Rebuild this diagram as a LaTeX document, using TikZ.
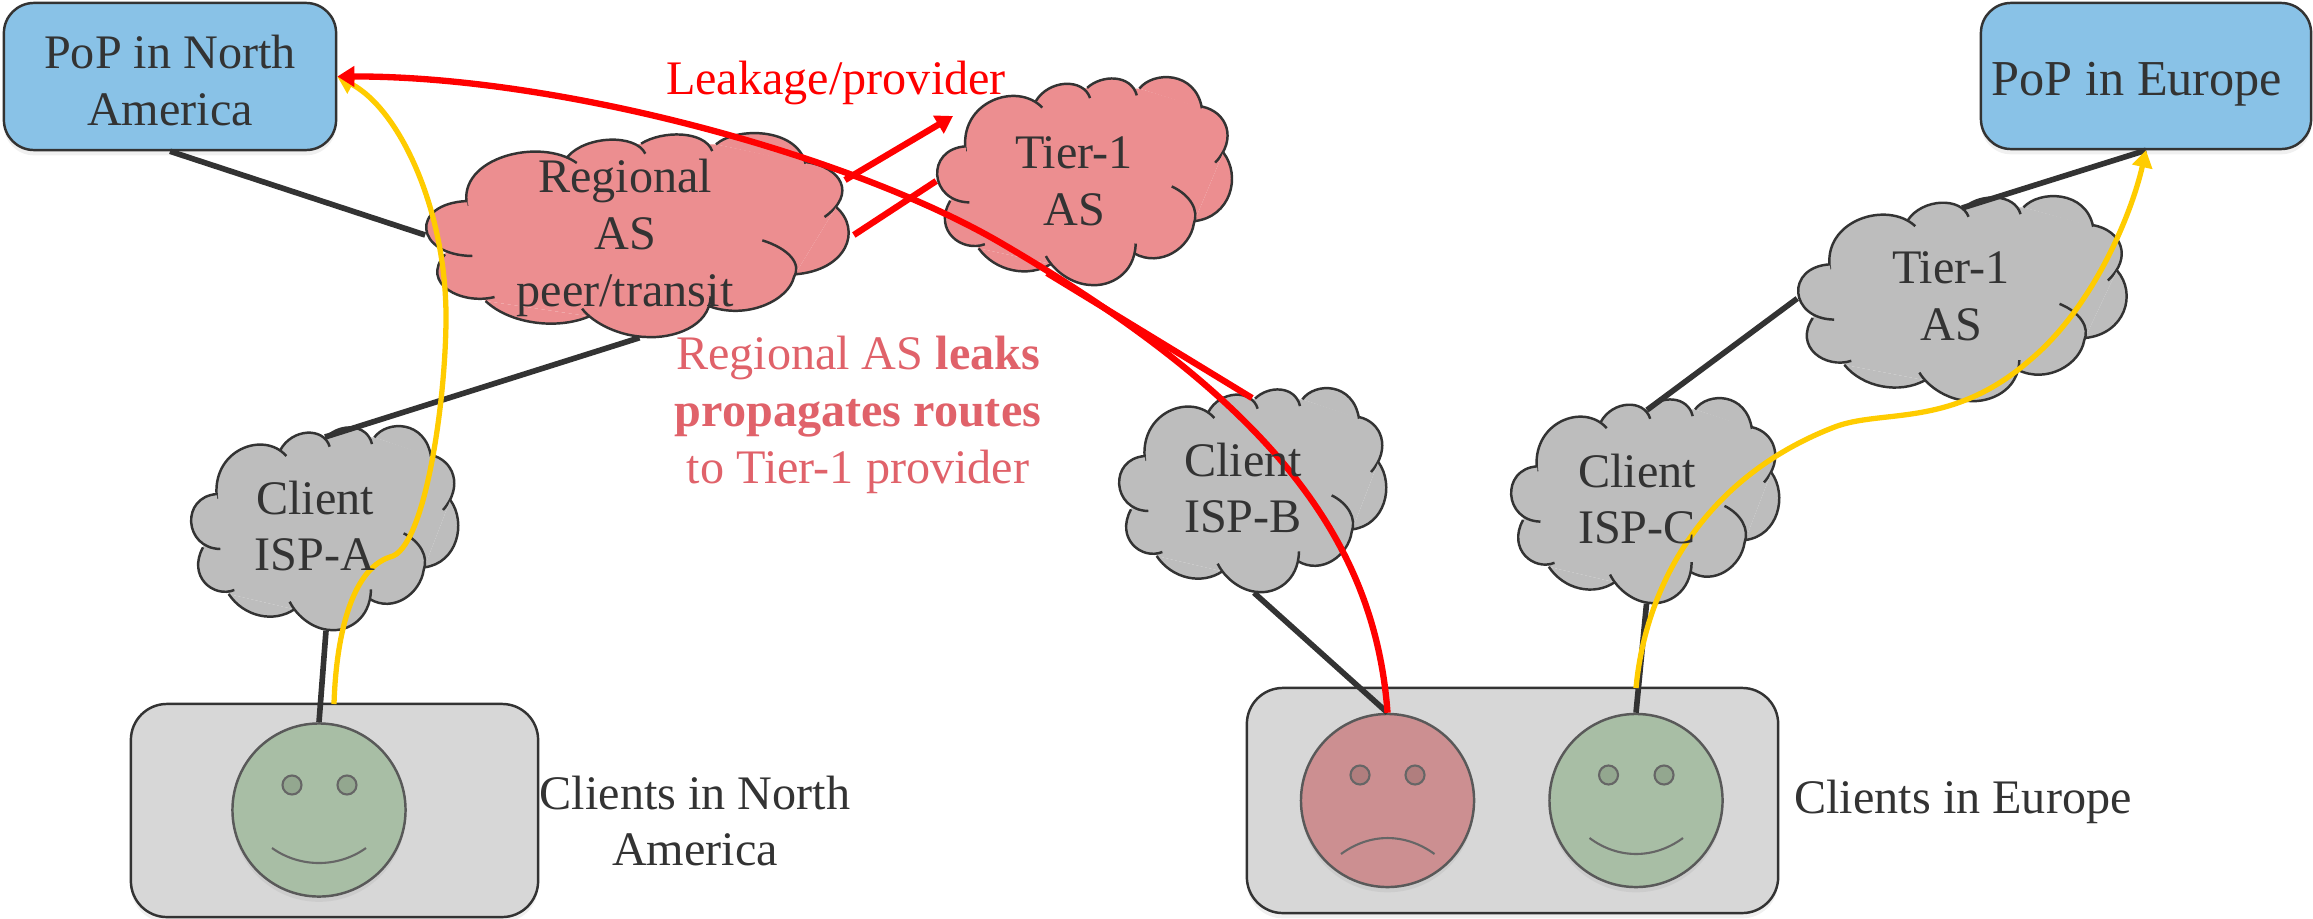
\documentclass[tikz,border=0pt]{standalone}
\usepackage{fontspec}
\setmainfont{Liberation Serif}
\usetikzlibrary{arrows.meta,shadows}

\definecolor{inkgrey}{HTML}{333333}
\definecolor{popblue}{HTML}{89C2E7}
\definecolor{cloudgrey}{HTML}{BDBDBD}
\definecolor{cloudred}{HTML}{EC8E90}
\definecolor{boxgrey}{HTML}{D7D7D7}
\definecolor{happygreen}{HTML}{A8BEA5}
\definecolor{eyegreen}{HTML}{93A78F}
\definecolor{sadred}{HTML}{CC8F91}
\definecolor{eyered}{HTML}{B07E7E}
\definecolor{routeyellow}{HTML}{FFCC00}
\definecolor{notered}{HTML}{E0626A}

\tikzset{
  softshadow/.style={drop shadow={opacity=0.12,shadow xshift=0pt,shadow yshift=-1.5pt}},
  label/.style={font=\fontsize{13.7}{16.2}\selectfont,text=inkgrey,align=center,inner sep=0pt},
  popbox/.style={draw=inkgrey,line width=0.7pt,fill=popblue,rounded corners=0.3cm,inner sep=0pt,softshadow},
  clientbox/.style={draw=inkgrey,line width=0.7pt,fill=boxgrey,rounded corners=0.36cm,inner sep=0pt,softshadow},
  cloudbox/.style={inner sep=0pt},
  cloudline/.style={draw=inkgrey,line width=0.7pt},
  face/.style={circle,draw=black!65,line width=0.7pt,minimum size=1.73cm,inner sep=0pt,softshadow},
  faceeye/.style={circle,draw=black!60,line width=0.6pt,minimum size=0.19cm,inner sep=0pt},
  mouth/.style={draw=black!60,line width=0.6pt},
  link/.style={draw=inkgrey,line width=1.6pt},
  redroute/.style={draw=red,line width=1.8pt},
  yellowroute/.style={draw=routeyellow,line width=1.5pt},
  routetip/.style={-{Triangle[length=0.17cm,width=0.2cm]}},
}

% cloud of size #2 x #3 round node #1
\newcommand{\drawcloud}[4]{
  \begin{scope}[shift={(#1)},xscale=#2/810,yscale=#3/612,shift={(-677,-384)}]
    \fill[#4] (350,290) -- (540,150) -- (680,110) -- (822,112) -- (992,168) -- (1050,300)
      -- (972,502) -- (808,597) -- (582,628) -- (385,582) -- (308,442) -- cycle;
    \draw[cloudline,fill=#4] (350,297) .. controls (330,150) and (490,90) .. (558,168);
    \draw[cloudline,fill=#4] (540,150) .. controls (575,85) and (670,80) .. (688,140);
    \draw[cloudline,fill=#4] (680,110) .. controls (720,70) and (800,70) .. (815,132);
    \draw[cloudline,fill=#4] (822,112) .. controls (860,60) and (975,60) .. (992,170);
    \draw[cloudline,fill=#4] (992,165) .. controls (1060,180) and (1090,260) .. (1028,330);
    \draw[cloudline,fill=#4] (1050,300) .. controls (1100,370) and (1070,490) .. (972,502);
    \draw[cloudline,fill=#4] (910,400) .. controls (960,425) and (985,470) .. (970,510)
      .. controls (960,580) and (880,640) .. (808,597);
    \draw[cloudline,fill=#4] (812,568) .. controls (810,660) and (740,695) .. (690,690)
      .. controls (640,688) and (590,650) .. (568,605);
    \draw[cloudline,fill=#4] (582,628) .. controls (520,670) and (430,650) .. (385,582);
    \draw[cloudline,fill=#4] (402,570) .. controls (340,595) and (260,530) .. (308,442);
    \draw[cloudline,fill=#4] (360,447) .. controls (250,445) and (240,290) .. (350,282);
  \end{scope}
}

\begin{document}
\begin{tikzpicture}[x=0.01cm,y=-0.01cm]
  \useasboundingbox (0,0) rectangle (2313,918);

  % PoPs and clients
  \node[popbox,minimum width=3.32cm,minimum height=1.47cm] (popna) at (170,76.5) {};
  \node[popbox,minimum width=3.30cm,minimum height=1.46cm] (popeu) at (2146,76) {};
  \node[clientbox,minimum width=4.07cm,minimum height=2.13cm] (boxna) at (334.5,810.5) {};
  \node[clientbox,minimum width=5.31cm,minimum height=2.25cm] (boxeu) at (1512.5,800.5) {};
  \node[face,fill=happygreen] (facea) at (319,810) {};
  \node[face,fill=sadred] (faceb) at (1387.5,800.5) {};
  \node[face,fill=happygreen] (facec) at (1636,800.5) {};
  \node[faceeye,fill=eyegreen] (eyea1) at (292,785) {};
  \node[faceeye,fill=eyegreen] (eyea2) at (347,785) {};
  \node[faceeye,fill=eyered] (eyeb1) at (1360,775) {};
  \node[faceeye,fill=eyered] (eyeb2) at (1415,775) {};
  \node[faceeye,fill=eyegreen] (eyec1) at (1608.5,775) {};
  \node[faceeye,fill=eyegreen] (eyec2) at (1664,775) {};
  \draw[mouth] (272,848) .. controls (300,868) and (338,868) .. (366,848);
  \draw[mouth] (1341,854) .. controls (1370,832.7) and (1405,832.7) .. (1434.5,854);
  \draw[mouth] (1589.5,838) .. controls (1618,859.3) and (1654,859.3) .. (1683,838);

  \node[cloudbox,minimum width=4.27cm,minimum height=2.04cm] (regional) at (639.5,235) {};
  \node[cloudbox,minimum width=2.98cm,minimum height=2.08cm] (tierred) at (1086,181) {};
  \node[cloudbox,minimum width=3.32cm,minimum height=2.05cm] (tiergrey) at (1964,298.5) {};
  \node[cloudbox,minimum width=2.70cm,minimum height=2.04cm] (ispa) at (326,528) {};
  \node[cloudbox,minimum width=2.70cm,minimum height=2.04cm] (ispb) at (1254,490) {};
  \node[cloudbox,minimum width=2.71cm,minimum height=2.05cm] (ispc) at (1646.5,500.5) {};

  \coordinate (ispatop) at (325,437);
  \coordinate (ispctop) at (1647,410);
  \coordinate (tiertop) at (1962,208);
  \coordinate (yellowa) at (334,704);
  \coordinate (yellowc) at (1636,688);
  \coordinate (leakfrom) at (845,180);
  \coordinate (leakto) at (953,116);
  \coordinate (leakfoot) at (1252,398);
  \coordinate (tierfoot) at (1047,273);

  % links
  \draw[link] (popna.south) -- (regional.west);
  \draw[link] (ispa.south) -- (facea.north);
  \draw[link] (ispb.south) -- (faceb.north);
  \draw[link] (ispc.south) -- (facec.north);

  % clouds
  \drawcloud{ispa}{270}{204}{cloudgrey}
  \drawcloud{ispb}{270}{204}{cloudgrey}
  \drawcloud{ispc}{271}{205}{cloudgrey}
  \drawcloud{tiergrey}{332}{205}{cloudgrey}
  \drawcloud{regional}{427}{204}{cloudred}

  \draw[link] (regional.south) -- (ispatop);
  \draw[link] (ispctop) -- (tiergrey.west);
  \draw[link] (tiertop) -- (popeu.south);

  \draw[redroute] (regional.east) -- (tierred.west);
  \draw[redroute] (leakfoot) -- (tierfoot);
  \drawcloud{tierred}{298}{208}{cloudred}

  % routes
  \draw[redroute,routetip] (leakfrom) -- (leakto);
  \draw[yellowroute,routetip] (yellowa) .. controls (336,640) and (350,570) .. (390,557)
    .. controls (425,550) and (446,400) .. (446,317)
    .. controls (446,210) and (400,110) .. (popna.east);
  \draw[yellowroute,routetip] (yellowc) .. controls (1645,590) and (1700,480) .. (1832,428)
    .. controls (1880,408) and (1950,430) .. (2030,360)
    .. controls (2090,310) and (2130,220) .. (popeu.south);
  \draw[redroute,routetip] (faceb.north) .. controls (1375,540) and (1270,400) .. (1001,243)
    .. controls (851,155.5) and (560,76) .. (popna.east);

  % texts
  \node[label] (popnatext) at (170,81) {PoP in North\\America};
  \node[label,font=\fontsize{14.3}{16.2}\selectfont] (popeutext) at (2137,84) {PoP in Europe};
  \node[label] (regionaltext) at (625,238) {Regional\\AS\\peer/transit};
  \node[label] (tierredtext) at (1074,181) {Tier-1\\AS};
  \node[label] (tiergreytext) at (1951,296) {Tier-1\\AS};
  \node[label] (ispatext) at (315,526) {Client\\ISP-A};
  \node[label] (ispbtext) at (1243,488) {Client\\ISP-B};
  \node[label] (ispctext) at (1637,499) {Client\\ISP-C};
  \node[label] (clientsna) at (695,821) {Clients in North\\America};
  \node[label] (clientseu) at (1963,802) {Clients in Europe};
  \node[label,text=red] (leaktext) at (836,83) {Leakage/provider};
  \node[label,text=notered] (notetext) at (858,415) {Regional AS \textbf{leaks}\\\textbf{propagates routes}\\to Tier-1 provider};
\end{tikzpicture}
\end{document}
